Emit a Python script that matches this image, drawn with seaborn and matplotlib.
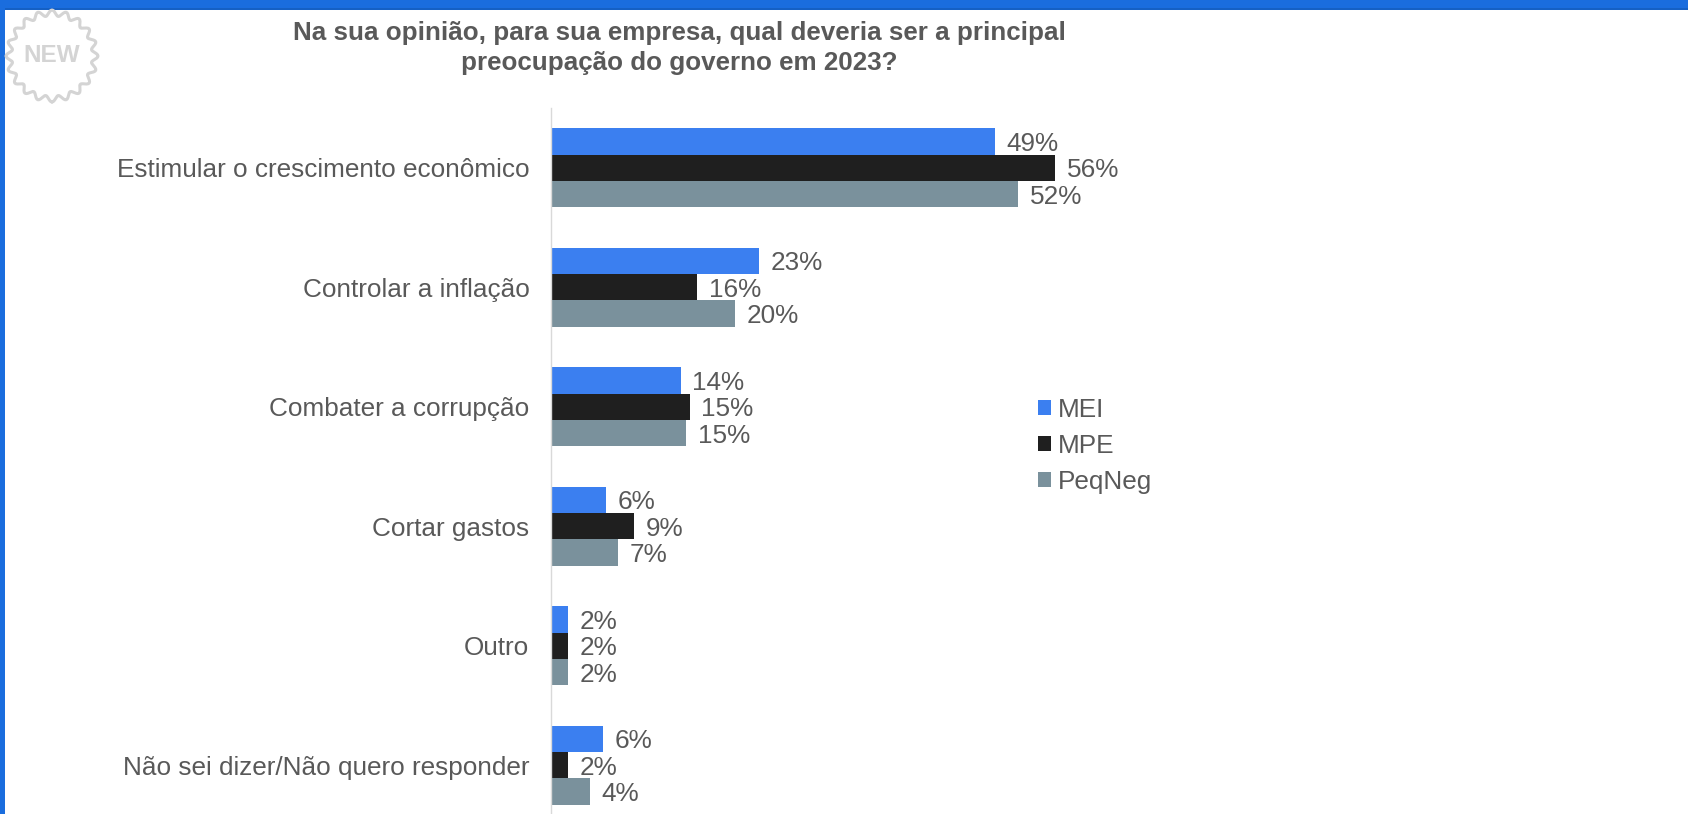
#!/usr/bin/env python3

import numpy as np
import pandas as pd
import seaborn as sns
import matplotlib.pyplot as plt
from matplotlib.patches import Rectangle

categories = ['Estimular o crescimento econômico', 'Controlar a inflação',
              'Combater a corrupção', 'Cortar gastos', 'Outro',
              'Não sei dizer/Não quero responder']
mei = [49.3, 23.1, 14.4, 6.1, 1.9, 5.8]
mpe = [56.0, 16.2, 15.4, 9.2, 1.9, 1.9]
peqneg = [51.9, 20.4, 15.0, 7.4, 1.9, 4.3]

colors = {'MEI': '#3b7ff0', 'MPE': '#1f1f1f', 'PeqNeg': '#7a919c'}
text_color = '#595959'

df = pd.DataFrame({'cat': categories, 'MEI': mei, 'MPE': mpe, 'PeqNeg': peqneg})
df = df.melt(id_vars='cat', var_name='grupo', value_name='valor')

W, H = 1688, 814
sns.set_style('white')
plt.rcParams['font.family'] = ['Liberation Sans', 'DejaVu Sans']

fig = plt.figure(figsize=(W / 100, H / 100), dpi=100)
# axes runs past the bottom of the picture, the screenshot is cropped there
ax = fig.add_axes([551 / W, (H - 825) / H, (W - 551) / W, 717 / H])
ax.patch.set_alpha(0)

sns.barplot(data=df, y='cat', x='valor', hue='grupo', palette=colors, order=categories,
            hue_order=list(colors), width=0.665, gap=0, saturation=1, orient='h',
            linewidth=0, ax=ax)

for c in ax.containers:
    labels = ax.bar_label(c, fmt='%.0f%%', padding=8.5, fontsize=18.8, color=text_color)
    for lab in labels:
        lab.set_va('center_baseline')

ax.set_xlim(0, (W - 551) / 9.0)
ax.set_ylim(5.5, -0.5)
ax.set_xlabel('')
ax.set_ylabel('')
ax.set_xticks([])
ax.tick_params(axis='y', length=0, pad=15.5, labelsize=18.8, labelcolor=text_color)
for s in ['top', 'right', 'bottom']:
    ax.spines[s].set_visible(False)
ax.spines['left'].set_color('#d9d9d9')
ax.spines['left'].set_linewidth(1)

leg = ax.legend(loc='upper left', bbox_to_anchor=((1038 - 551) / (W - 551), (825 - 398) / 717),
                frameon=False, fontsize=18.8, labelcolor=text_color, handlelength=0.5,
                handleheight=0.5, handletextpad=0.25, labelspacing=0.46, borderpad=0, borderaxespad=0)

fig.text(679 / W, 1 - 33 / H, 'Na sua opinião, para sua empresa, qual deveria ser a principal',
         ha='center', va='center', fontsize=18.7, fontweight='bold', color=text_color)
fig.text(679 / W, 1 - 63 / H, 'preocupação do governo em 2023?',
         ha='center', va='center', fontsize=18.7, fontweight='bold', color=text_color)

# window frame of the screenshot
fig.add_artist(Rectangle((0, 1 - 10 / H), 1, 10 / H, transform=fig.transFigure, color='#1a6dde', lw=0))
fig.add_artist(Rectangle((0, 1 - 10 / H), 1, 2 / H, transform=fig.transFigure, color='#1560c4', lw=0))
fig.add_artist(Rectangle((0, 0), 5 / W, 1, transform=fig.transFigure, color='#1a6dde', lw=0))

# NEW badge
t = np.linspace(0, 2 * np.pi, 241)
r = 43 + 3 * np.cos(20 * t)
bx = (52 + r * np.sin(t)) / W
by = 1 - (56 + r * np.cos(t)) / H
fig.add_artist(plt.Line2D(bx, by, color='#d4d4d4', lw=2.2, transform=fig.transFigure))
fig.text(52 / W, 1 - 56 / H, 'NEW', ha='center', va='center', fontsize=17.5, fontweight='bold', color='#d4d4d4')

fig.savefig('out.png', dpi=100)
